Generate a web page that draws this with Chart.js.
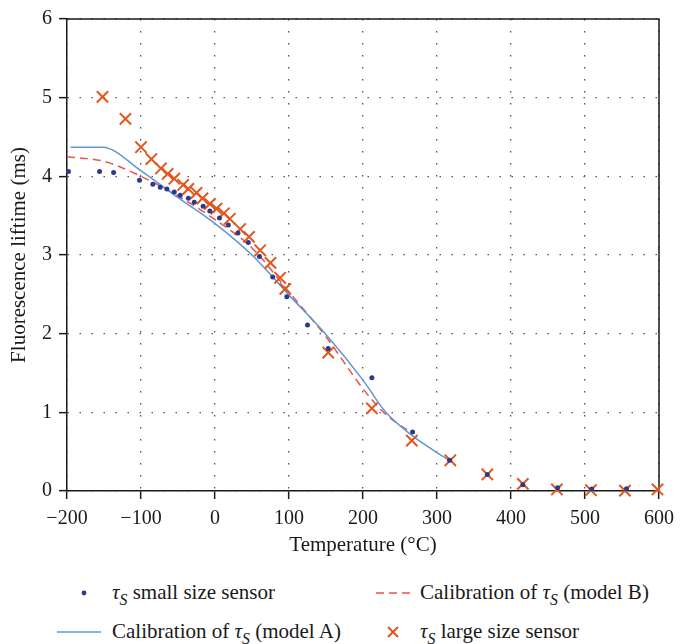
<!DOCTYPE html>
<html>
<head>
<meta charset="utf-8">
<script src="https://cdn.jsdelivr.net/npm/chart.js@4.4.0/dist/chart.umd.min.js"></script>
<style>
  body { margin: 0; background: #fff; }
  #wrap { position: relative; width: 682px; height: 644px; font-family: 'Liberation Serif', 'DejaVu Serif', serif; color: #1a1a1a; }
  #chart-box { position: absolute; left: 0; top: 0; width: 682px; height: 565px; }
  .leg-text { position: absolute; font-size: 21px; line-height: 24px; white-space: nowrap; }
  .leg-text sub { font-size: 75%; vertical-align: -0.35em; line-height: 0; }
  .leg-mark { position: absolute; }
</style>
</head>
<body>
<div id="wrap">
  <div id="chart-box"><canvas id="chart"></canvas></div>

  <!-- legend, 2 x 2 -->
  <svg class="leg-mark" style="left:74px;top:583px" width="20" height="20"><circle cx="10" cy="10" r="2.4" fill="#2b3a8f"/></svg>
  <div class="leg-text" style="left:112px;top:580px"><i>τ</i><sub><i>S</i></sub> small size sensor</div>

  <svg class="leg-mark" style="left:374px;top:583px" width="40" height="20"><line x1="2" y1="10" x2="38" y2="10" stroke="#e8534d" stroke-width="1.5" stroke-dasharray="8,5"/></svg>
  <div class="leg-text" style="left:420px;top:580px">Calibration of <i>τ</i><sub><i>S</i></sub> (model B)</div>

  <svg class="leg-mark" style="left:55px;top:622px" width="50" height="20"><line x1="2" y1="10" x2="46" y2="10" stroke="#5e97d4" stroke-width="1.5"/></svg>
  <div class="leg-text" style="left:112px;top:619px">Calibration of <i>τ</i><sub><i>S</i></sub> (model A)</div>

  <svg class="leg-mark" style="left:383px;top:622px" width="20" height="20"><path d="M5 5 L15 15 M15 5 L5 15" stroke="#e2571e" stroke-width="2"/></svg>
  <div class="leg-text" style="left:420px;top:619px"><i>τ</i><sub><i>S</i></sub> large size sensor</div>
</div>

<script>
// small size sensor (dots)
const smallTemp = [-198, -156, -137, -102, -84, -74, -65, -55, -47, -36, -28, -16, -7, 6, 18, 31, 45, 60, 78, 97, 125, 153, 212, 267, 317, 368, 416, 463, 509, 556];
const smallTau  = [4.06, 4.06, 4.05, 3.95, 3.90, 3.86, 3.84, 3.80, 3.76, 3.72, 3.67, 3.62, 3.56, 3.47, 3.38, 3.28, 3.16, 2.98, 2.72, 2.47, 2.11, 1.81, 1.44, 0.75, 0.39, 0.21, 0.08, 0.04, 0.025, 0.03];

// large size sensor (crosses)
const largeTemp = [-152, -121, -100, -86, -73, -64, -55, -43, -36, -25, -17, -7, 2, 12, 20, 34, 46, 61, 75, 88, 95, 153, 212, 266, 318, 368, 416, 462, 508, 554, 598];
const largeTau  = [5.01, 4.73, 4.37, 4.22, 4.10, 4.03, 3.97, 3.89, 3.84, 3.79, 3.72, 3.65, 3.59, 3.53, 3.46, 3.33, 3.23, 3.06, 2.90, 2.71, 2.57, 1.76, 1.05, 0.64, 0.39, 0.21, 0.09, 0.02, 0.01, 0.005, 0.02];

// calibration curves
const modelATemp = [-195, -152, -100, -50, 0, 50, 100, 150, 200, 230, 267, 318];
const modelATau  = [4.37, 4.37, 4.07, 3.73, 3.40, 3.00, 2.49, 1.99, 1.41, 1.01, 0.70, 0.38];
const modelBTemp = [-200, -150, -100, -50, 0, 50, 100, 150, 200, 230, 265];
const modelBTau  = [4.25, 4.19, 4.00, 3.75, 3.45, 3.09, 2.53, 1.96, 1.30, 0.98, 0.74];

const xMin = -200, xMax = 600, xStep = 100;
const yMin = 0, yMax = 6, yStep = 1;

function toPoints(xs, ys) {
    return xs.map((x, i) => ({ x: x, y: ys[i] }));
}

const serif = "'Liberation Serif', 'DejaVu Serif', serif";
const ink = '#1a1a1a';

// solid frame on top and right side of the plot
const framePlugin = {
    id: 'frame',
    beforeDatasetsDraw(chart) {
        const a = chart.chartArea, ctx = chart.ctx;
        ctx.save();
        ctx.strokeStyle = ink;
        ctx.lineWidth = 1.5;
        ctx.beginPath();
        ctx.moveTo(a.left, a.top);
        ctx.lineTo(a.right, a.top);
        ctx.lineTo(a.right, a.bottom);
        ctx.stroke();
        ctx.restore();
    }
};

const ctx = document.getElementById('chart').getContext('2d');
new Chart(ctx, {
    type: 'scatter',
    data: {
        datasets: [
            {
                label: 'τS small size sensor',
                data: toPoints(smallTemp, smallTau),
                pointStyle: 'circle',
                pointRadius: 2.5,
                pointBackgroundColor: '#2b3a8f',
                pointBorderWidth: 0,
                clip: false
            },
            {
                label: 'τS large size sensor',
                data: toPoints(largeTemp, largeTau),
                pointStyle: 'crossRot',
                pointRadius: 8,
                pointBorderColor: '#e2571e',
                pointBorderWidth: 2,
                clip: false
            },
            {
                label: 'Calibration of τS (model A)',
                data: toPoints(modelATemp, modelATau),
                showLine: true,
                pointRadius: 0,
                borderColor: '#5e97d4',
                borderWidth: 1.5,
                cubicInterpolationMode: 'monotone'
            },
            {
                label: 'Calibration of τS (model B)',
                data: toPoints(modelBTemp, modelBTau),
                showLine: true,
                pointRadius: 0,
                borderColor: '#e8534d',
                borderWidth: 1.5,
                borderDash: [8, 5],
                cubicInterpolationMode: 'monotone'
            }
        ]
    },
    options: {
        responsive: true,
        maintainAspectRatio: false,
        animation: false,
        layout: { padding: { top: 17, right: 15, left: 0, bottom: 0 } },
        plugins: {
            legend: { display: false },
            tooltip: { enabled: false }
        },
        scales: {
            x: {
                type: 'linear',
                min: xMin, max: xMax,
                afterFit: s => { s.height = 74; },
                ticks: {
                    stepSize: xStep,
                    padding: 8,
                    color: ink,
                    font: { family: serif, size: 20 },
                    callback: v => v < 0 ? '\u2212' + Math.abs(v) : String(v)
                },
                grid: { color: '#555', lineWidth: 1.3, tickLength: 8, tickColor: ink, tickWidth: 1.5, tickBorderDash: [] },
                border: { color: ink, width: 1.5, dash: [1.5, 10.5] },
                title: {
                    display: true,
                    text: 'Temperature (°C)',
                    color: ink,
                    font: { family: serif, size: 21 },
                    padding: { top: 0, bottom: 7 }
                }
            },
            y: {
                min: yMin, max: yMax,
                afterFit: s => { s.width = 67; },
                ticks: {
                    stepSize: yStep,
                    padding: 7,
                    color: ink,
                    font: { family: serif, size: 20 }
                },
                grid: { color: '#555', lineWidth: 1.3, tickLength: 8, tickColor: ink, tickWidth: 1.5, tickBorderDash: [] },
                border: { color: ink, width: 1.5, dash: [1.5, 10.5] },
                title: {
                    display: true,
                    text: 'Fluorescence liftime (ms)',
                    color: ink,
                    font: { family: serif, size: 21 },
                    padding: { top: 7, bottom: 0 }
                }
            }
        }
    },
    plugins: [framePlugin]
});
</script>
</body>
</html>
